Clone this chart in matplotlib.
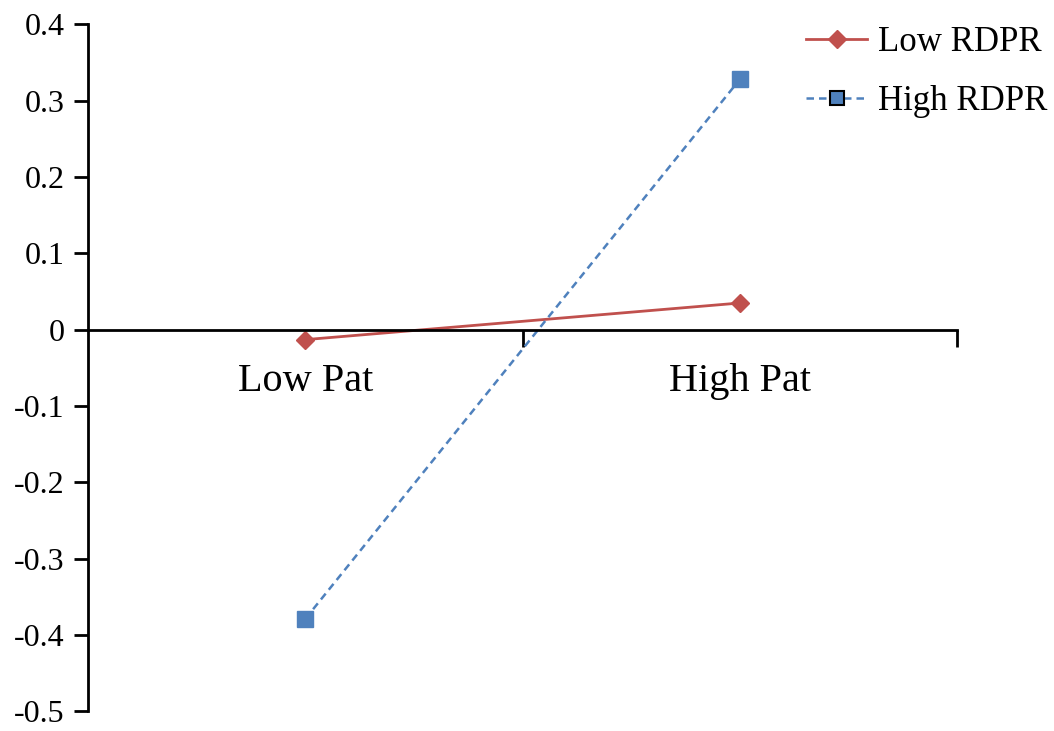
import matplotlib.pyplot as plt
from matplotlib.lines import Line2D

plt.rcParams['font.family'] = ['Liberation Serif', 'DejaVu Serif']

categories = ["Low Pat", "High Pat"]
low_rdpr = [-0.013, 0.035]
high_rdpr = [-0.379, 0.328]
y_ticks = [0.4, 0.3, 0.2, 0.1, 0, -0.1, -0.2, -0.3, -0.4, -0.5]

red = "#C0504D"
blue = "#4F81BD"

fig = plt.figure(figsize=(10.54, 7.31), dpi=100)
ax = fig.add_axes([0.0835, 0.027, 0.8245, 0.9395])

xs = list(range(len(categories)))
ax.plot(xs, low_rdpr, color=red, lw=2, marker="D", ms=9.5, mec=red, mfc=red)
ax.plot(xs, high_rdpr, color=blue, lw=1.8, ls=(0, (3, 2)), marker="s", ms=12,
        mec=blue, mfc=blue)

ax.set_xlim(-0.5, 1.5)
ax.set_ylim(-0.5, 0.4)

for s in ["top", "right"]:
    ax.spines[s].set_visible(False)
ax.spines["bottom"].set_position(("data", 0))
ax.spines["left"].set_linewidth(2)
ax.spines["bottom"].set_linewidth(2)

ax.set_yticks(y_ticks)
ax.set_yticklabels([("%g" % v) for v in y_ticks], fontsize=23)
ax.tick_params(axis="y", direction="out", length=10, width=2, pad=7)

# category separators as major ticks, labels on minor ticks
ax.set_xticks([0.5, 1.5])
ax.set_xticklabels(["", ""])
ax.tick_params(axis="x", which="major", direction="out", length=12, width=2)
ax.set_xticks(xs, minor=True)
ax.set_xticklabels(categories, minor=True, fontsize=29)
ax.tick_params(axis="x", which="minor", length=0, pad=24)

handles = [
    Line2D([], [], color=red, lw=2, marker="D", ms=9.5, mec=red, mfc=red),
    Line2D([], [], color=blue, lw=1.8, ls=(0, (3, 2)), marker="s", ms=10,
           mec="black", mfc=blue, mew=1.5),
]
fig.legend(handles, ["Low RDPR", "High RDPR"], loc="upper right",
           bbox_to_anchor=(1.023, 1.007), frameon=False, fontsize=25,
           handlelength=1.75, handletextpad=0.3, labelspacing=0.75)

fig.savefig("out.png", dpi=100)
